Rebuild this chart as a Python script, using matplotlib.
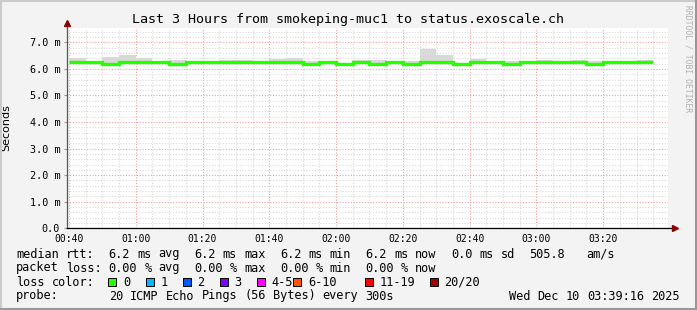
import re
import numpy as np
import matplotlib
matplotlib.use("Agg")
import matplotlib.pyplot as plt
from matplotlib.patches import Rectangle
from matplotlib.lines import Line2D

W, H = 697, 310

# median rtt per 5 minute step (ms), first step starts 00:40
median_ms = [6.25, 6.25, 6.20, 6.25, 6.25, 6.25, 6.20, 6.25, 6.25, 6.27,
             6.25, 6.25, 6.25, 6.27, 6.20, 6.25, 6.20, 6.27, 6.20, 6.25,
             6.20, 6.25, 6.25, 6.20, 6.25, 6.25, 6.20, 6.25, 6.25, 6.25,
             6.25, 6.20, 6.27, 6.25, 6.25]
# smoke (spread of the 20 pings)
smoke_hi = [6.40, 6.25, 6.46, 6.52, 6.40, 6.25, 6.33, 6.25, 6.25, 6.33,
            6.33, 6.25, 6.37, 6.41, 6.30, 6.25, 6.22, 6.33, 6.33, 6.25,
            6.30, 6.76, 6.52, 6.22, 6.37, 6.30, 6.30, 6.25, 6.33, 6.25,
            6.33, 6.30, 6.27, 6.25, 6.33]
smoke_lo = [6.22, 6.18, 6.18, 6.22, 6.22, 6.18, 6.18, 6.18, 6.22, 6.24,
            6.18, 6.22, 6.22, 6.20, 6.18, 6.22, 6.18, 6.24, 6.18, 6.17,
            6.18, 6.18, 6.18, 6.18, 6.22, 6.22, 6.18, 6.22, 6.18, 6.22,
            6.22, 6.18, 6.20, 6.17, 6.22]

time_labels = ['00:40', '01:00', '01:20', '01:40', '02:00', '02:20', '02:40', '03:00', '03:20']
y_ticks = [0, 1, 2, 3, 4, 5, 6, 7]

loss_labels = ['0', '1', '2', '3', '4-5', '6-10', '11-19', '20/20']
loss_colors = ['#26ff00', '#00b8ff', '#0059ff', '#7e00ff', '#ff00ff', '#ff5500', '#ff0000', '#a00000']

legend_lines = [
    "median rtt:  6.2 ms avg  6.2 ms max  6.2 ms min  6.2 ms now  0.0 ms sd  505.8   am/s",
    "packet loss: 0.00 % avg  0.00 % max  0.00 % min  0.00 % now",
]
probe_line = "probe:       20 ICMP Echo Pings (56 Bytes) every 300s"
date_text = "Wed Dec 10 03:39:16 2025"

mono = 'DejaVu Sans Mono'
fs = 8.53  # gives ~7.13 px per character, like the reference
adv = 7.13

fig = plt.figure(figsize=(W / 100, H / 100), dpi=100, facecolor='#f3f3f3')

# plot area in pixel coords
left, right, top, bottom = 66.5, 667.5, 27.7, 228.3
ax = fig.add_axes([left / W, 1 - bottom / H, (right - left) / W, (bottom - top) / H])
ax.set_facecolor('white')

edges = np.arange(0, 5 * len(median_ms) + 1, 5)
ax.stairs(smoke_hi, edges, baseline=smoke_lo, fill=True, color='#d9d9d9', zorder=2)
ax.stairs(median_ms, edges, color='#26ff00', linewidth=2.4, baseline=None, zorder=3)

ax.set_xlim(-44 / 60, 180 - 44 / 60)
ax.set_ylim(0, 7.55)

ax.set_xticks(range(0, 161, 20))
ax.set_xticklabels(time_labels)
ax.set_xticks(range(0, 180, 5), minor=True)
ax.set_yticks(y_ticks)
ax.set_yticklabels(['0.0'] + ['%.1f m' % v for v in y_ticks[1:]])
ax.set_yticks(np.arange(0, 7.6, 0.2), minor=True)

ax.grid(which='minor', color='#d9d9d9', linestyle=(0, (1, 1.5)), linewidth=0.8, zorder=1)
ax.grid(which='major', color='#f2a0a0', linestyle=(0, (1, 1.5)), linewidth=0.8, zorder=1)
ax.set_axisbelow(True)

ax.tick_params(which='minor', length=0)
ax.tick_params(axis='y', which='major', length=2.5, width=0.8, color='#999999', pad=2,
               labelsize=7.3, labelfontfamily=mono)
ax.tick_params(axis='x', which='major', length=0, pad=4, labelsize=7, labelfontfamily=mono)

for s in ['top', 'right']:
    ax.spines[s].set_visible(False)
ax.spines['left'].set_color('#555555')
ax.spines['bottom'].set_color('black')
ax.spines['left'].set_linewidth(0.9)
ax.spines['bottom'].set_linewidth(0.9)

# axis arrows
ax.plot([1.0, 1.012], [0, 0], color='black', lw=0.9, transform=ax.transAxes, clip_on=False)
ax.plot([1.012], [0], marker='>', ms=4, color='#8b0000', transform=ax.transAxes, clip_on=False)
ax.plot([0, 0], [1.0, 1.02], color='#555555', lw=0.9, transform=ax.transAxes, clip_on=False)
ax.plot([0], [1.025], marker='^', ms=4, color='#8b0000', transform=ax.transAxes, clip_on=False)

ax.set_ylabel('Seconds', fontsize=8)
ax.yaxis.set_label_coords(-55 / (right - left), 0.5)

fig.text(347.5 / W, 1 - 19 / H, 'Last 3 Hours from smokeping-muc1 to status.exoscale.ch',
         ha='center', va='center', fontsize=9.6, family=mono)
fig.text(688 / W, 1 - 5 / H, 'RRDTOOL / TOBI OETIKER', rotation=270, ha='center', va='top',
         fontsize=5.8, family=mono, color='#b0b0b0')


def put_words(line, y, x0=16):
    # one text per word, on the monospace character grid; y = baseline from top
    for m in re.finditer(r'\S+', line):
        fig.text((x0 + m.start() * adv) / W, 1 - y / H, m.group(), ha='left', va='baseline',
                 fontsize=fs, family=mono)


put_words(legend_lines[0], 257.5)
put_words(legend_lines[1], 271.5)
put_words('loss color:', 285.5)
put_words(probe_line, 299.5)
put_words(date_text, 299.5, x0=680 - len(date_text) * adv)

square_x = [108.3, 145.7, 182.7, 220, 256.7, 293.3, 365, 430]
for sx, lab, col in zip(square_x, loss_labels, loss_colors):
    fig.patches.append(Rectangle((sx / W, 1 - 285.5 / H), 8 / W, 8 / H, transform=fig.transFigure,
                                 facecolor=col, edgecolor='black', linewidth=0.7))
    fig.text((sx + 14.5) / W, 1 - 285.5 / H, lab, ha='left', va='baseline', fontsize=fs, family=mono)

# 3d frame of the image
fig.add_artist(Line2D([0, 1], [1 - 0.5 / H, 1 - 0.5 / H], color='#cbcbcb', lw=1.5, transform=fig.transFigure))
fig.add_artist(Line2D([0.5 / W, 0.5 / W], [0, 1], color='#cbcbcb', lw=1.5, transform=fig.transFigure))
fig.add_artist(Line2D([0, 1], [1.0 / H, 1.0 / H], color='#999999', lw=1.5, transform=fig.transFigure))
fig.add_artist(Line2D([1 - 1.0 / W, 1 - 1.0 / W], [0, 1], color='#999999', lw=1.5, transform=fig.transFigure))

fig.savefig('out.png', dpi=100, facecolor=fig.get_facecolor())
